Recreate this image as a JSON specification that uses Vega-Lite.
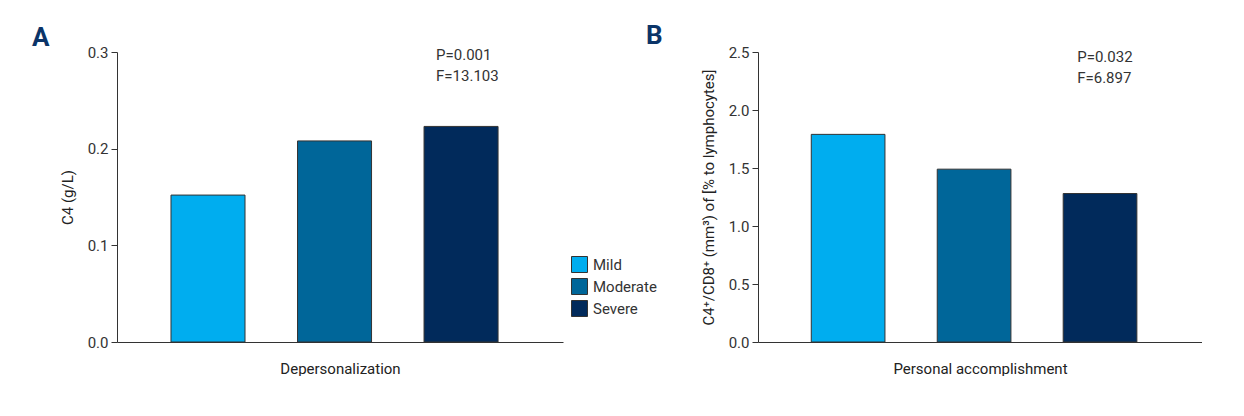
{
  "$schema": "https://vega.github.io/schema/vega-lite/v6.json",
  "padding": {"left": 32, "top": 23, "right": 0, "bottom": 0},
  "background": "white",
  "bounds": "flush",
  "config": {
    "font": "Roboto",
    "view": {"stroke": null},
    "axis": {
      "domainColor": "#333333",
      "tickColor": "#333333",
      "labelColor": "#333333",
      "titleColor": "#222222",
      "tickSize": 6,
      "labelFontSize": 15,
      "titleFontSize": 15,
      "titleFontWeight": "normal",
      "labelPadding": 3,
      "labelFont": "Roboto",
      "titleFont": "Roboto",
      "grid": false
    },
    "legend": {"labelFont": "Roboto"},
    "text": {"font": "Roboto", "color": "#333333"}
  },
  "datasets": {
    "a": [
      {"severity": "Mild", "value": 0.152},
      {"severity": "Moderate", "value": 0.208},
      {"severity": "Severe", "value": 0.223}
    ],
    "b": [
      {"severity": "Mild", "value": 1.79},
      {"severity": "Moderate", "value": 1.49},
      {"severity": "Severe", "value": 1.28}
    ],
    "noteA": [{"severity": "Severe", "note": "P=0.001\nF=13.103"}],
    "noteB": [{"severity": "Severe", "note": "P=0.032\nF=6.897"}]
  },
  "resolve": {"scale": {"color": "independent"}, "legend": {"color": "independent"}},
  "spacing": 195,
  "hconcat": [
    {
      "title": {"text": "A", "anchor": "start", "frame": "group", "baseline": "alphabetic", "dx": -85, "dy": 32, "offset": 5, "fontSize": 26, "fontWeight": "bold", "color": "#0b3468", "font": "Roboto"},
      "width": 446,
      "height": 290,
      "layer": [
        {
          "data": {"name": "a"},
          "mark": {"type": "bar", "stroke": "#333333", "strokeWidth": 1},
          "encoding": {
            "x": {"field": "severity", "type": "nominal", "sort": ["Mild", "Moderate", "Severe"],
              "scale": {"paddingInner": 0.415, "paddingOuter": 0.47, "align": 0.454},
              "axis": {"title": "Depersonalization", "labels": false, "ticks": false, "titlePadding": 19}},
            "y": {"field": "value", "type": "quantitative", "scale": {"domain": [0, 0.3], "nice": false},
              "axis": {"title": "C4 (g/L)", "values": [0, 0.1, 0.2, 0.3], "format": ".1f", "titlePadding": 12}},
            "color": {"field": "severity", "type": "nominal",
              "scale": {"domain": ["Mild", "Moderate", "Severe"], "range": ["#00adef", "#006699", "#012a5b"]},
              "legend": {"title": null, "orient": "none", "legendX": 454, "legendY": 204, "symbolType": "square", "symbolSize": 256, "symbolStrokeColor": "#333333", "symbolStrokeWidth": 1, "labelFontSize": 15, "labelColor": "#333333", "labelOffset": 5, "rowPadding": 1}}
          }
        },
        {
          "data": {"name": "noteA"},
          "mark": {"type": "text", "align": "left", "baseline": "alphabetic", "dx": 12, "dy": 8, "lineBreak": "\n", "fontSize": 15, "lineHeight": 21},
          "encoding": {
            "x": {"field": "severity", "type": "nominal", "sort": ["Mild", "Moderate", "Severe"], "bandPosition": 0},
            "y": {"datum": 0.3, "type": "quantitative", "scale": {"domain": [0, 0.3], "nice": false}},
            "text": {"field": "note"}
          }
        }
      ]
    },
    {
      "title": {"text": "B", "anchor": "start", "frame": "group", "baseline": "alphabetic", "dx": -112, "dy": 32, "offset": 7, "fontSize": 26, "fontWeight": "bold", "color": "#0b3468", "font": "Roboto"},
      "width": 444,
      "height": 290,
      "layer": [
        {
          "data": {"name": "b"},
          "mark": {"type": "bar", "stroke": "#333333", "strokeWidth": 1},
          "encoding": {
            "x": {"field": "severity", "type": "nominal", "sort": ["Mild", "Moderate", "Severe"],
              "scale": {"paddingInner": 0.415, "paddingOuter": 0.47, "align": 0.45},
              "axis": {"title": "Personal accomplishment", "labels": false, "ticks": false, "titlePadding": 19}},
            "y": {"field": "value", "type": "quantitative", "scale": {"domain": [0, 2.5], "nice": false},
              "axis": {"title": "C4⁺/CD8⁺ (mm³) of [% to lymphocytes]", "values": [0, 0.5, 1, 1.5, 2, 2.5], "format": ".1f", "titlePadding": 12}},
            "color": {"field": "severity", "type": "nominal",
              "scale": {"domain": ["Mild", "Moderate", "Severe"], "range": ["#00adef", "#006699", "#012a5b"]},
              "legend": null}
          }
        },
        {
          "data": {"name": "noteB"},
          "mark": {"type": "text", "align": "left", "baseline": "alphabetic", "dx": 14, "dy": 10, "lineBreak": "\n", "fontSize": 15, "lineHeight": 21},
          "encoding": {
            "x": {"field": "severity", "type": "nominal", "sort": ["Mild", "Moderate", "Severe"], "bandPosition": 0},
            "y": {"datum": 2.5, "type": "quantitative", "scale": {"domain": [0, 2.5], "nice": false}},
            "text": {"field": "note"}
          }
        }
      ]
    }
  ]
}
